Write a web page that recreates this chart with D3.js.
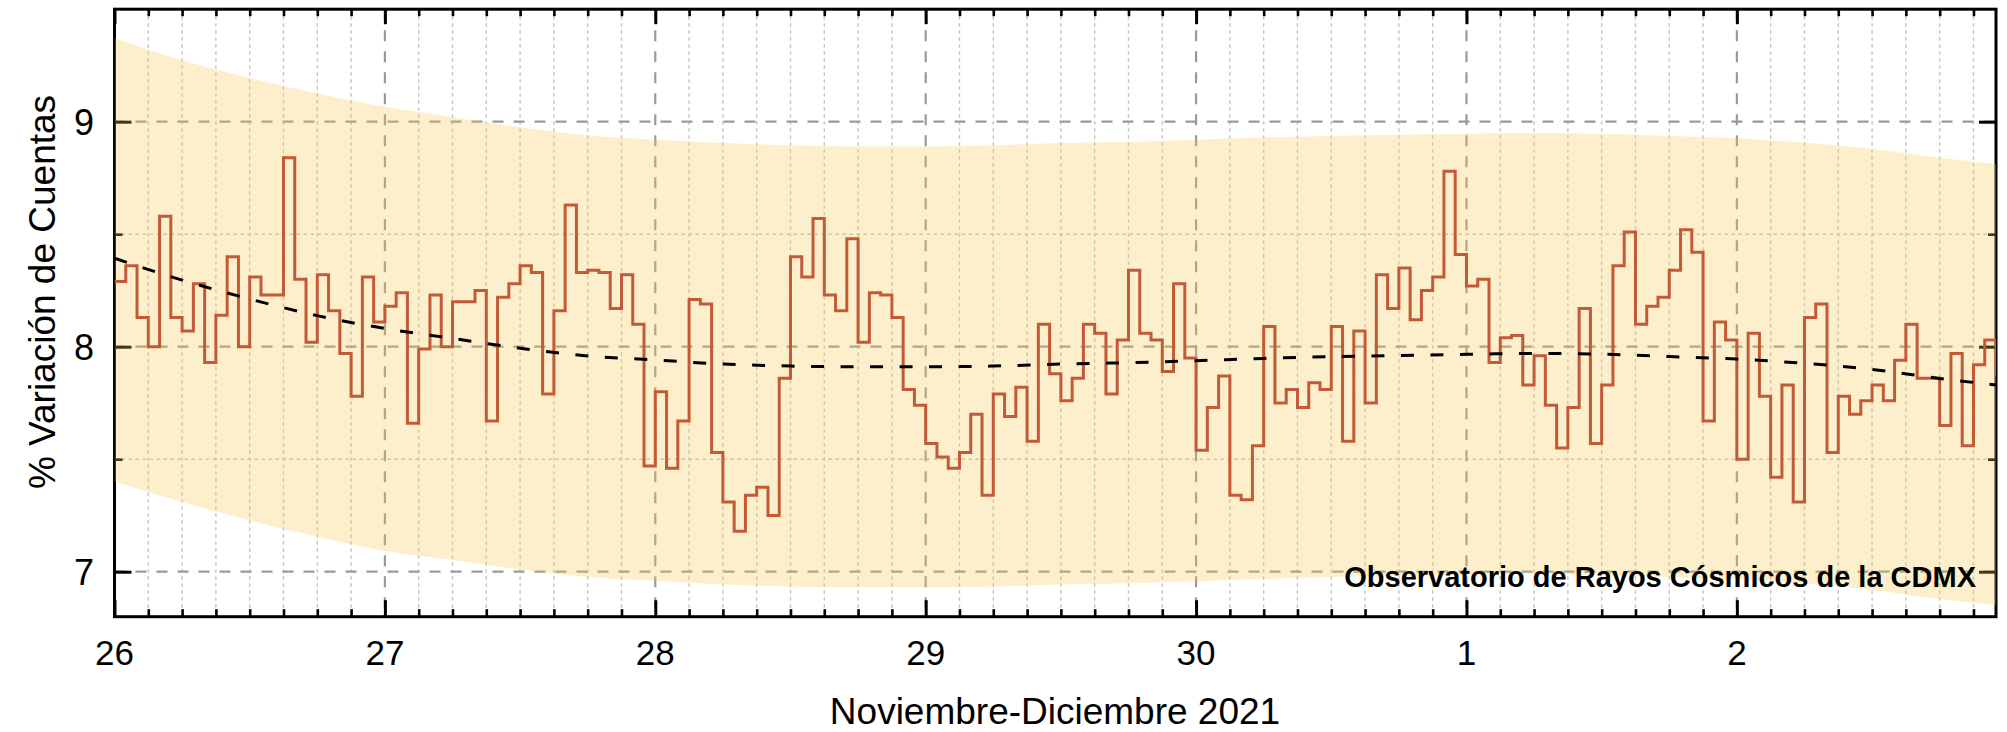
<!DOCTYPE html>
<html><head><meta charset="utf-8">
<script src="https://cdn.jsdelivr.net/npm/d3@7"></script>
<style>html,body{margin:0;padding:0;background:#fff}svg{display:block}</style>
</head><body>
<svg id="chart" width="2007" height="732"></svg>
<script>
// ---- data (hourly, starting 26 Nov 2021 00:00) ----
const dayLabels = ["26","27","28","29","30","1","2"];
const dayHours = [0,24,48,72,96,120,144];
const yTicks = [7,8,9];
const yTickLabels = ["7","8","9"];
const yMinorTicks = [7.5,8.5];
const counts = [
 8.29,8.36,8.13,8.00,8.58,8.13,8.07,8.28,7.93,8.14,8.40,8.00,8.31,8.23,8.23,8.84,8.30,8.02,8.32,8.16,7.97,7.78,8.31,8.11,8.18,8.24,7.66,7.99,
 8.23,8.00,8.20,8.20,8.25,7.67,8.22,8.28,8.36,8.33,7.79,8.16,8.63,8.33,8.34,8.33,8.17,8.32,8.10,7.47,7.80,7.46,7.67,8.21,8.19,7.53,7.31,7.18,7.34,
 7.375,7.25,7.86,8.40,8.31,8.57,8.23,8.16,8.48,8.02,8.24,8.23,8.13,7.81,7.74,7.57,7.51,7.46,7.53,7.70,7.34,7.79,7.69,7.82,7.58,8.10,7.88,7.76,
 7.86,8.10,8.06,7.79,8.03,8.34,8.06,8.03,7.89,8.28,7.95,7.54,7.73,7.87,7.34,7.32,7.56,8.09,7.75,7.81,7.73,7.84,7.81,8.09,7.58,8.07,7.75,8.32,8.17,
 8.35,8.12,8.25,8.31,8.78,8.41,8.27,8.30,7.93,8.04,8.05,7.83,7.96,7.74,7.55,7.73,8.17,7.57,7.83,8.36,8.51,8.10,8.18,8.22,8.34,8.52,8.42,7.67,
 8.11,8.03,7.50,8.06,7.78,7.42,7.83,7.31,8.13,8.19,7.53,7.78,7.70,7.76,7.83,7.76,7.94,8.10,7.86,7.86,7.65,7.97,7.56,7.92,8.03,7.87
];
const trendHours = [0,6,12,18,24,30,36,42,48,54,60,66,72,78,84,90,96,102,108,114,120,126,132,138,144,150,156,162,167];
const trend = [8.393,8.296,8.212,8.138,8.081,8.037,7.993,7.959,7.941,7.923,7.914,7.911,7.911,7.914,7.923,7.929,7.938,7.948,7.956,7.961,7.966,7.970,7.967,7.956,7.945,7.926,7.899,7.859,7.830];
const bandUpper = [9.371,9.273,9.194,9.125,9.066,9.020,8.975,8.940,8.920,8.905,8.895,8.890,8.890,8.895,8.905,8.910,8.920,8.930,8.937,8.942,8.947,8.950,8.947,8.937,8.927,8.906,8.879,8.840,8.812];
const bandLower = [7.400,7.310,7.228,7.155,7.092,7.052,7.010,6.977,6.960,6.943,6.934,6.931,6.931,6.934,6.943,6.949,6.958,6.968,6.976,6.981,6.986,6.990,6.987,6.976,6.965,6.946,6.919,6.879,6.852];
const annotation = "Observatorio de Rayos Cósmicos de la CDMX";
const xTitle = "Noviembre-Diciembre 2021";
const yTitle = "% Variación de Cuentas";

// ---- layout ----
const L = 114.5, R = 1996, T = 9.2, B = 616.7;
const FONT = "'Liberation Sans', Arial, Helvetica, sans-serif";
const svg = d3.select("#chart");
const x = d3.scaleLinear().domain([0,167]).range([L,R]);
const y = d3.scaleLinear().domain([6.8,9.5]).range([B,T]);

const minorHours = d3.range(3,167,3).filter(h => h % 24 !== 0);
const majorGridHours = dayHours.filter(h => h > 0);

// clip
svg.append("defs").append("clipPath").attr("id","plotclip")
  .append("rect").attr("x",L).attr("y",T).attr("width",R-L).attr("height",B-T);

const grid = svg.append("g");
grid.selectAll("line.mv").data(minorHours).join("line")
  .attr("x1",d=>x(d)).attr("x2",d=>x(d)).attr("y1",T).attr("y2",B)
  .attr("stroke","#c4c4c4").attr("stroke-width",1.4).attr("stroke-dasharray","3.5,3.5");
grid.selectAll("line.mh").data(yMinorTicks).join("line")
  .attr("x1",L).attr("x2",R).attr("y1",d=>y(d)).attr("y2",d=>y(d))
  .attr("stroke","#c4c4c4").attr("stroke-width",1.4).attr("stroke-dasharray","3.5,3.5");
grid.selectAll("line.Mv").data(majorGridHours).join("line")
  .attr("x1",d=>x(d)).attr("x2",d=>x(d)).attr("y1",T).attr("y2",B)
  .attr("stroke","#9a9a9a").attr("stroke-width",2.2).attr("stroke-dasharray","11,10");
grid.selectAll("line.Mh").data(yTicks).join("line")
  .attr("x1",L).attr("x2",R).attr("y1",d=>y(d)).attr("y2",d=>y(d))
  .attr("stroke","#9a9a9a").attr("stroke-width",2.2).attr("stroke-dasharray","11,10");

function styleAxis(g, w){
  g.select(".domain").remove();
  g.selectAll(".tick line").attr("stroke","#000").attr("stroke-width",w);
  g.selectAll(".tick text").remove();
}
svg.append("g").attr("transform",`translate(0,${B})`)
  .call(d3.axisBottom(x).tickValues(dayHours).tickSize(-16.5).tickFormat(""))
  .call(g=>styleAxis(g,3));
svg.append("g").attr("transform",`translate(0,${B})`)
  .call(d3.axisBottom(x).tickValues(minorHours).tickSize(-7.5).tickFormat(""))
  .call(g=>styleAxis(g,2.6));
svg.append("g").attr("transform",`translate(0,${T})`)
  .call(d3.axisTop(x).tickValues(dayHours).tickSize(-15).tickFormat(""))
  .call(g=>styleAxis(g,3));
svg.append("g").attr("transform",`translate(0,${T})`)
  .call(d3.axisTop(x).tickValues(minorHours).tickSize(-7).tickFormat(""))
  .call(g=>styleAxis(g,2.6));
svg.append("g").attr("transform",`translate(${L},0)`)
  .call(d3.axisLeft(y).tickValues(yTicks).tickSize(-17).tickFormat(""))
  .call(g=>styleAxis(g,3));
svg.append("g").attr("transform",`translate(${L},0)`)
  .call(d3.axisLeft(y).tickValues(yMinorTicks).tickSize(-8).tickFormat(""))
  .call(g=>styleAxis(g,2.6));
svg.append("g").attr("transform",`translate(${R},0)`)
  .call(d3.axisRight(y).tickValues(yTicks).tickSize(-17).tickFormat(""))
  .call(g=>styleAxis(g,3));
svg.append("g").attr("transform",`translate(${R},0)`)
  .call(d3.axisRight(y).tickValues(yMinorTicks).tickSize(-8).tickFormat(""))
  .call(g=>styleAxis(g,2.6));

svg.append("rect").attr("x",L).attr("y",T).attr("width",R-L).attr("height",B-T)
  .attr("fill","none").attr("stroke","#000").attr("stroke-width",3);

// band
const bandData = trendHours.map((h,i)=>({h, hi:bandUpper[i], lo:bandLower[i]}));
svg.append("path").datum(bandData)
  .attr("clip-path","url(#plotclip)")
  .attr("d", d3.area().x(d=>x(d.h)).y0(d=>y(d.lo)).y1(d=>y(d.hi)).curve(d3.curveMonotoneX))
  .attr("fill","rgb(248,197,69)").attr("fill-opacity",0.28);

// data steps
const g = svg.append("g").attr("clip-path","url(#plotclip)");
g.append("path").datum(counts)
  .attr("d", d3.line().x((d,i)=>x(i)).y(d=>y(d)).curve(d3.curveStepAfter))
  .attr("fill","none").attr("stroke","#c25a37").attr("stroke-width",3)
  .attr("stroke-linejoin","miter");

// trend
g.append("path").datum(trendHours.map((h,i)=>[h,trend[i]]))
  .attr("d", d3.line().x(d=>x(d[0])).y(d=>y(d[1])).curve(d3.curveMonotoneX))
  .attr("fill","none").attr("stroke","#000").attr("stroke-width",3)
  .attr("stroke-dasharray","13,16.5");

// tick labels
svg.append("g").selectAll("text").data(dayHours).join("text")
  .attr("x",d=>x(d)).attr("y",665).attr("text-anchor","middle")
  .attr("font-family",FONT).attr("font-size",35).attr("fill","#000")
  .text((d,i)=>dayLabels[i]);
svg.append("g").selectAll("text").data(yTicks).join("text")
  .attr("x",94).attr("y",d=>y(d)).attr("dy","0.36em").attr("text-anchor","end")
  .attr("font-family",FONT).attr("font-size",36).attr("fill","#000")
  .text((d,i)=>yTickLabels[i]);

// titles
svg.append("text").attr("x",1055).attr("y",724).attr("text-anchor","middle")
  .attr("font-family",FONT).attr("font-size",37).attr("fill","#000").text(xTitle);
svg.append("text").attr("transform","translate(42,292) rotate(-90)")
  .attr("text-anchor","middle").attr("dy","0.36em")
  .attr("font-family",FONT).attr("font-size",37).attr("fill","#000").text(yTitle);

// annotation
svg.append("text").attr("x",1976).attr("y",587).attr("text-anchor","end")
  .attr("font-family",FONT).attr("font-size",29).attr("font-weight","bold")
  .attr("fill","#000").text(annotation);
</script>
</body></html>
